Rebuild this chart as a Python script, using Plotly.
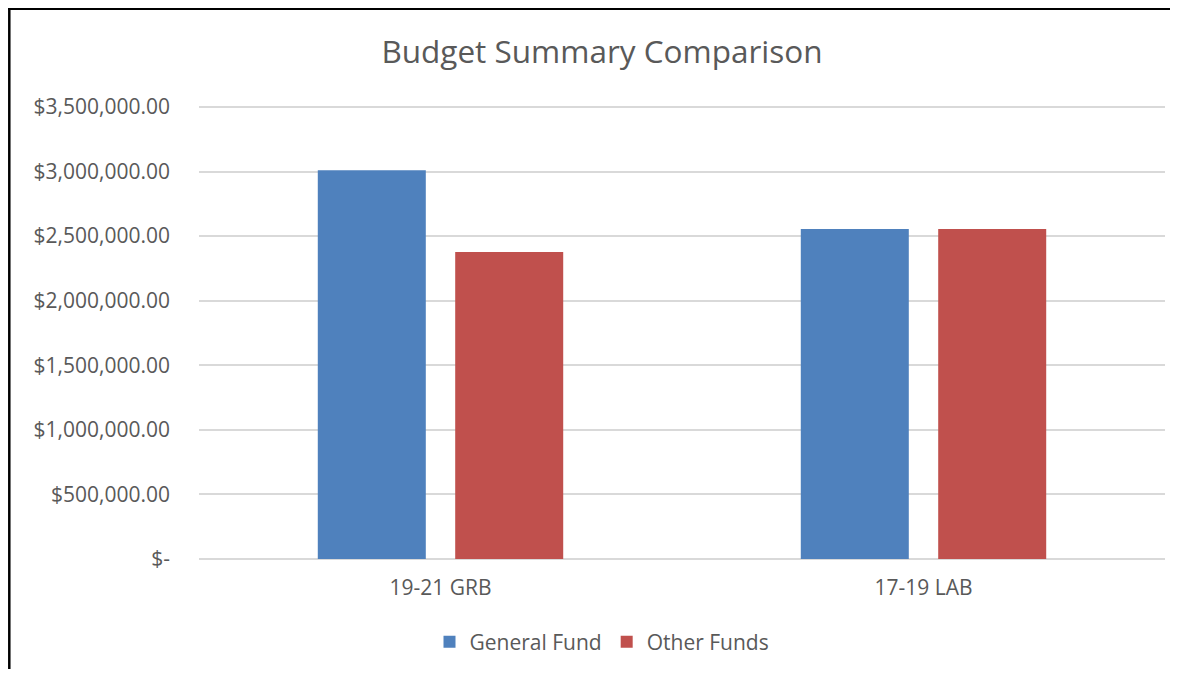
import plotly.graph_objects as go

categories = ["19-21 GRB", "17-19 LAB"]
general_fund = [3010000, 2555000]
other_funds = [2378000, 2555000]
y_ticks = [0, 500000, 1000000, 1500000, 2000000, 2500000, 3000000, 3500000]
y_tick_labels = ["$-" if v == 0 else f"${v:,.2f}" for v in y_ticks]

FONT = "Open Sans"
GREY = "#595959"

W, H = 1164, 661          # page adds an 8px body margin
EXTRA = 4                 # pixels above the top gridline so it is drawn
L, R, T, B = 191, 7, 99 - EXTRA, 110
PW, PH = W - L - R, H - T - B
Y_MAX = 3500000 * PH / (PH - EXTRA)


def px_x(x):
    return (x - L) / PW


def px_y(y):
    return (H - B - y) / PH


fig = go.Figure()
fig.add_trace(go.Bar(name="General Fund", x=categories, y=general_fund,
                     marker=dict(color="#4F81BD", line=dict(width=0))))
fig.add_trace(go.Bar(name="Other Funds", x=categories, y=other_funds,
                     marker=dict(color="#C0504D", line=dict(width=0))))

fig.update_layout(
    width=W, height=H,
    margin=dict(l=L, r=R, t=T, b=B),
    paper_bgcolor="white", plot_bgcolor="white",
    barmode="group", bargap=0.431, bargroupgap=0.214,
    title=dict(text="Budget Summary Comparison", x=594 / W, xanchor="center",
               y=1 - 44 / H, yanchor="middle",
               font=dict(family=FONT, size=31.5, color=GREY)),
    font=dict(family=FONT, size=21, color=GREY),
    legend=dict(orientation="h", x=px_x(594), xanchor="center",
                y=px_y(634), yanchor="middle",
                font=dict(family=FONT, size=21, color=GREY), itemwidth=30,
                traceorder="normal"),
    hovermode=False,
)
fig.update_yaxes(range=[0, Y_MAX], tickvals=y_ticks, ticktext=y_tick_labels,
                 showgrid=True, gridcolor="#D9D9D9", gridwidth=1.5,
                 zeroline=True, zerolinecolor="#D9D9D9", zerolinewidth=1.5,
                 showline=False, ticks="", ticklabelstandoff=28,
                 tickfont=dict(family=FONT, size=21, color=GREY))
fig.update_xaxes(range=[-0.5, 1.5], showline=False, ticks="", ticklabelstandoff=14,
                 tickfont=dict(family=FONT, size=21, color=GREY))

# outer chart border (left and top edges visible in the crop)
fig.add_shape(type="line", xref="paper", yref="paper",
              x0=px_x(0), x1=px_x(W - 2), y0=px_y(0.8), y1=px_y(0.8),
              line=dict(color="black", width=2.5))
fig.add_shape(type="line", xref="paper", yref="paper",
              x0=px_x(1.3), x1=px_x(1.3), y0=px_y(0), y1=px_y(H),
              line=dict(color="black", width=2.5))

fig.write_html("out.html", config={"displayModeBar": False})
